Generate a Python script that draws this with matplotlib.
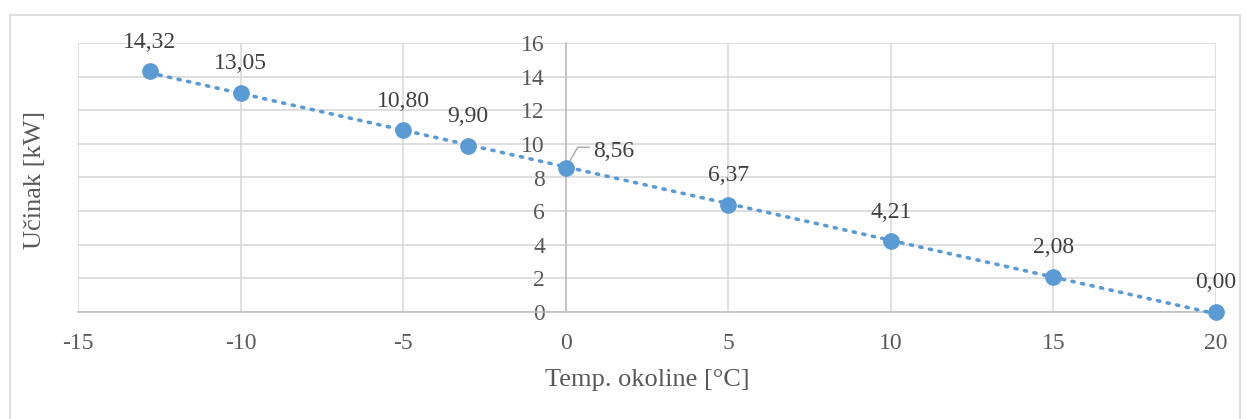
import numpy as np
import matplotlib.pyplot as plt
from matplotlib.patches import Rectangle

plt.rcParams['font.family'] = ['Liberation Serif', 'DejaVu Serif']
plt.rcParams['axes.unicode_minus'] = False

temps = [-12.8, -10, -5, -3, 0, 5, 10, 15, 20]
power = [14.32, 13.05, 10.80, 9.90, 8.56, 6.37, 4.21, 2.08, 0.00]
labels = ["14,32", "13,05", "10,80", "9,90", "8,56", "6,37", "4,21", "2,08", "0,00"]

blue = "#5B9BD5"
grey_txt = "#595959"
grid_c = "#D9D9D9"

fig = plt.figure(figsize=(12.47, 4.19), dpi=100)
fig.patches.append(Rectangle((10/1247, -0.1), 1230/1247, (419-15)/419 + 0.1,
                             transform=fig.transFigure, fill=False,
                             edgecolor="#D9D9D9", linewidth=1.2))
ax = fig.add_axes([78/1247, 107/419, 1138/1247, 269/419])

# trendline (linear fit)
k, n = np.polyfit(temps, power, 1)
xs = np.array([min(temps), max(temps)])
ax.plot(xs, k*xs + n, color=blue, linewidth=2.6, linestyle=(0, (0.6, 2.1)),
        dash_capstyle="round", zorder=3, clip_on=False)

ax.plot(temps, power, "o", color=blue, markersize=11, zorder=4, clip_on=False)

for t, p, l in zip(temps, power, labels):
    if t == 0:
        # leader line for this label
        ax.annotate("", (t, p), xytext=(17, 15), textcoords="offset points",
                    arrowprops=dict(arrowstyle="-", color="#A6A6A6", lw=1,
                                    connectionstyle="angle,angleA=0,angleB=60,rad=0",
                                    shrinkA=0, shrinkB=3))
        ax.annotate(l, (t, p), xytext=(19.5, 12), textcoords="offset points",
                    ha="left", va="center", fontsize=17, color="#404040")
    else:
        ax.annotate(l, (t, p), xytext=(0, 21), textcoords="offset points",
                    ha="center", va="center", fontsize=17, color="#404040")

ax.set_xlim(-15, 20)
ax.set_ylim(0, 16)
ax.set_xticks(range(-15, 21, 5))
ax.set_yticks(range(0, 17, 2))
ax.grid(True, color=grid_c, linewidth=1.2)
ax.set_axisbelow(True)

for s in ["top", "right"]:
    ax.spines[s].set_visible(False)
ax.spines["left"].set_position(("data", 0))
ax.spines["left"].set_color("#BFBFBF")
ax.spines["bottom"].set_color("#BFBFBF")
ax.spines["left"].set_linewidth(1.2)
ax.spines["bottom"].set_linewidth(1.2)
ax.tick_params(axis="both", length=0, labelsize=17, labelcolor=grey_txt)
ax.tick_params(axis="y", pad=15)
ax.tick_params(axis="x", pad=15)

fig.text(35/1247, 1 - 180/419, "Učinak [kW]", rotation=90, ha="center", va="center",
         fontsize=19, color=grey_txt)
fig.text(647/1247, 1 - 380/419, "Temp. okoline [°C]", ha="center", va="center",
         fontsize=19, color=grey_txt)

fig.savefig("out.png", dpi=100)
